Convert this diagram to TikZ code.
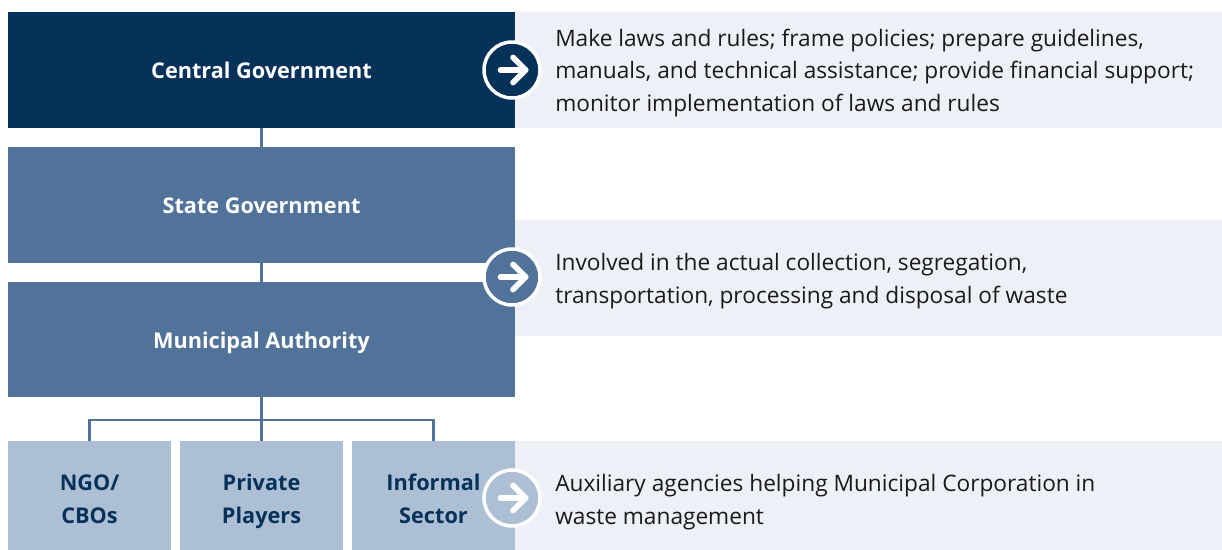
\documentclass[tikz,border=0pt]{standalone}
\usepackage{fontspec}
\setmainfont{Open Sans}
\definecolor{navy}{HTML}{063159}
\definecolor{steel}{HTML}{527399}
\definecolor{pale}{HTML}{ACBFD4}
\definecolor{mist}{HTML}{EDF0F6}
\definecolor{ink}{HTML}{1A1A1A}
\newcommand{\oneup}{\rule{0pt}{21pt}}
\newcommand{\twoup}{\rule{0pt}{24.8pt}}
\newcommand{\lowend}{\rule[-7.3pt]{0pt}{7.3pt}}
\tikzset{
  x=0.75pt,y=-0.75pt,
  box/.style={anchor=north west,inner sep=0pt,outer sep=0pt,align=center,text=white,font=\fontsize{16.25}{24.4}\selectfont\bfseries},
  small/.style={box,text=navy,fill=pale,minimum width=163*0.75pt,minimum height=109*0.75pt},
  wide/.style={box,minimum width=507*0.75pt,minimum height=115.5*0.75pt},
  band/.style={anchor=north west,inner sep=0pt,outer sep=0pt,fill=mist,minimum width=707*0.75pt},
  desc/.style={anchor=west,inner sep=0pt,align=left,text=ink,font=\fontsize{17}{24.4}\selectfont},
  link/.style={draw=steel,line width=2.2pt},
  disc/.style={circle,draw=white,line width=2.6pt,inner sep=0pt,minimum size=56*0.75pt},
  arrowmark/.style={draw=white,line width=4.3pt,line cap=round,line join=round}
}
\newcommand{\arrowin}[1]{%
  \draw[arrowmark] ([xshift=-8.6pt]#1.center) -- ([xshift=10.2pt]#1.center);
  \draw[arrowmark] ([xshift=0.8pt,yshift=9.4pt]#1.center) -- ([xshift=10.2pt]#1.center) -- ([xshift=0.8pt,yshift=-9.4pt]#1.center);
}
\begin{document}
\begin{tikzpicture}
\useasboundingbox (0,0) rectangle (1222,550);
\node[band,minimum height=115.5*0.75pt] (b1) at (515,12) {};
\node[band,minimum height=115.5*0.75pt] (b2) at (515,220) {};
\node[band,minimum height=109*0.75pt] (b3) at (515,441) {};

\node[wide,fill=navy] (central) at (8,12) {\oneup Central Government\lowend};
\node[wide,fill=steel] (state) at (8,147) {\oneup State Government\lowend};
\node[wide,fill=steel,minimum height=114.5*0.75pt] (muni) at (8,282) {\oneup Municipal Authority\lowend};
\node[small] (ngo) at (8,441) {\twoup NGO/\\CBOs\lowend};
\node[small] (private) at (180,441) {\twoup Private\\Players\lowend};
\node[small] (informal) at (352,441) {\twoup Informal\\Sector\lowend};

\coordinate (bus) at (262,420);
\draw[link] (central) -- (state);
\draw[link] (state) -- (muni);
\draw[link] (muni.south) -- (private.north);
\draw[link] (ngo.north) |- (bus) -| (informal.north);

\node[disc,fill=navy] (c1) at (512,70) {};
\node[disc,fill=steel] (c2) at (512,277) {};
\node[disc,fill=pale] (c3) at (512,498) {};
\arrowin{c1}\arrowin{c2}\arrowin{c3}

\node[desc] (t1) at (555,73) {Make laws and rules; frame policies; prepare guidelines,\\manuals, and technical assistance; provide financial support;\\monitor implementation of laws and rules};
\node[desc] (t2) at (555,281) {Involved in the actual collection, segregation,\\transportation, processing and disposal of waste};
\node[desc] (t3) at (555,502) {Auxiliary agencies helping Municipal Corporation in\\waste management};
\end{tikzpicture}
\end{document}
